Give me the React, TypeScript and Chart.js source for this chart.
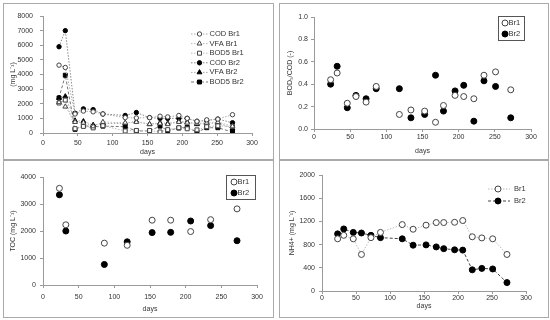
import React, { useEffect, useRef } from 'react';
import { Chart, registerables } from 'chart.js';
Chart.register(...registerables);

// ---------- data ----------
const days = [23, 32, 46, 58, 72, 86, 118, 134, 153, 168, 179, 195, 207, 221, 235, 251, 272];
const codBr1 = [4640, 4480, 1300, 1500, 1450, 1300, 1050, 1030, 1050, 1150, 1100, 1200, 1000, 800, 900, 950, 1250];
const vfaBr1 = [2100, 1800, 750, 700, 450, 750, 700, 750, 600, 650, 600, 750, 700, 650, 700, 750, 450];
const bodBr1 = [2050, 2250, 300, 450, 350, 500, 140, 175, 170, 70, 230, 360, 290, 215, 430, 490, 440];
const codBr2 = [5900, 7000, 1350, 1650, 1600, 1300, 1200, 1400, 1050, 1000, 1000, 1000, 1000, 800, 850, 950, 700];
const vfaBr2 = [2400, 2500, 850, 800, 550, 650, 650, 800, 600, 700, 650, 800, 750, 600, 650, 700, 300];
const bodBr2 = [2400, 3950, 250, 500, 430, 470, 430, 140, 140, 470, 160, 340, 390, 55, 360, 360, 70];

const ratioBr1 = [0.44, 0.5, 0.23, 0.29, 0.24, 0.38, 0.13, 0.17, 0.16, 0.06, 0.21, 0.3, 0.29, 0.27, 0.48, 0.51, 0.35];
const ratioBr2 = [0.4, 0.56, 0.19, 0.3, 0.27, 0.36, 0.36, 0.1, 0.13, 0.48, 0.16, 0.34, 0.39, 0.07, 0.43, 0.38, 0.1];

const tocDays = [23, 32, 86, 118, 153, 179, 207, 235, 272];
const tocBr1 = [3580, 2230, 1550, 1470, 2400, 2400, 1980, 2420, 2820];
const tocBr2 = [3340, 2000, 760, 1600, 1940, 1950, 2370, 2200, 1640];

const nh4Br1 = [900, 960, 900, 630, 920, 1010, 1145, 1065, 1135, 1180, 1180, 1185, 1215, 935, 915, 900, 630];
const nh4Br2 = [985, 1070, 1010, 1000, 960, 920, 900, 790, 795, 760, 730, 710, 705, 365, 390, 380, 145];

const seriesLabelsP1 = ['COD Br1', 'VFA Br1', 'BOD5 Br1', 'COD Br2', 'VFA Br2', 'BOD5 Br2'];
const reactorLabels = ['Br1', 'Br2'];
const xTitle = 'days';
const yTitles = ['(mg L\u207B\u00B9)', 'BOD\u2085/COD (-)', 'TOC (mg L\u207B\u00B9)', 'NH4+ (mg L\u207B\u00B9)'];
const xRange = { min: 0, max: 300, step: 50 };
const yRanges = [
  { min: 0, max: 8000, step: 1000 },
  { min: 0, max: 1, step: 0.2 },
  { min: 0, max: 4000, step: 1000 },
  { min: 0, max: 2000, step: 400 },
];

// ---------- styling ----------
const FONT = "'Liberation Sans', Arial, sans-serif";
const FS = 7;
const LH = FS * 1.2;
const AXIS = '#9a9a9a';
const TXT = '#333';

const pts = (xs: number[], ys: number[]) => xs.map((x, i) => ({ x, y: ys[i] }));

function drawMarker(ctx: CanvasRenderingContext2D, style: string, x: number, y: number, r: number, fill: string, stroke: string, bw: number) {
  ctx.save();
  ctx.beginPath();
  if (style === 'triangle') {
    let rad = 0;
    ctx.moveTo(x + Math.sin(rad) * r, y - Math.cos(rad) * r);
    rad += (2 * Math.PI) / 3;
    ctx.lineTo(x + Math.sin(rad) * r, y - Math.cos(rad) * r);
    rad += (2 * Math.PI) / 3;
    ctx.lineTo(x + Math.sin(rad) * r, y - Math.cos(rad) * r);
    ctx.closePath();
  } else if (style === 'rect') {
    const s = r * Math.SQRT1_2;
    ctx.rect(x - s, y - s, 2 * s, 2 * s);
  } else {
    ctx.arc(x, y, r, 0, Math.PI * 2);
  }
  ctx.fillStyle = fill;
  ctx.fill();
  ctx.lineWidth = bw;
  ctx.strokeStyle = stroke;
  ctx.stroke();
  ctx.restore();
}

type LegendCfg = {
  line?: [number, number];
  markerX: number;
  textX: number;
  rows: number[];
  box?: { x: number; y: number; w: number; h: number };
};

function legendPlugin(cfg: LegendCfg) {
  return {
    id: 'customLegend',
    afterDraw(chart: any) {
      const ctx: CanvasRenderingContext2D = chart.ctx;
      ctx.save();
      if (cfg.box) {
        ctx.strokeStyle = '#555';
        ctx.lineWidth = 1;
        ctx.strokeRect(cfg.box.x + 0.5, cfg.box.y + 0.5, cfg.box.w, cfg.box.h);
      }
      chart.data.datasets.forEach((ds: any, i: number) => {
        const y = cfg.rows[i];
        if (cfg.line && ds.showLine) {
          ctx.save();
          ctx.beginPath();
          ctx.setLineDash(ds.borderDash || []);
          ctx.strokeStyle = ds.borderColor;
          ctx.lineWidth = ds.borderWidth;
          ctx.moveTo(cfg.line[0], y);
          ctx.lineTo(cfg.line[1], y);
          ctx.stroke();
          ctx.restore();
        }
        drawMarker(ctx, ds.pointStyle, cfg.markerX, y, ds.pointRadius, ds.pointBackgroundColor, ds.pointBorderColor, ds.pointBorderWidth);
        ctx.fillStyle = TXT;
        ctx.font = `${FS + 0.5}px ${FONT}`;
        ctx.textBaseline = 'middle';
        ctx.textAlign = 'left';
        ctx.fillText(ds.label, cfg.textX, y);
      });
      ctx.restore();
    },
  };
}

type Panel = {
  box: { left: number; top: number; w: number; h: number };
  plot: { l: number; t: number; r: number; b: number };
  yTitleX: number;
  xTitleY: number;
  xTickOff: number;
  yTickGap: number;
  yi: number;
  decimals: number;
  datasets: any[];
  legend: LegendCfg;
};

const ds = (label: string, xs: number[], ys: number[], o: any) => ({
  label,
  data: pts(xs, ys),
  showLine: false,
  borderWidth: 1,
  pointBorderWidth: 1,
  ...o,
});

const openStyle = (style: string, r: number, line?: { c: string; d: number[] }) => ({
  pointStyle: style,
  pointRadius: r,
  pointBackgroundColor: '#fff',
  pointBorderColor: '#444',
  ...(line ? { showLine: true, borderColor: line.c, borderDash: line.d } : { borderColor: '#444' }),
});
const fillStyle = (style: string, r: number, line?: { c: string; d: number[] }) => ({
  pointStyle: style,
  pointRadius: r,
  pointBackgroundColor: '#000',
  pointBorderColor: '#000',
  ...(line ? { showLine: true, borderColor: line.c, borderDash: line.d } : { borderColor: '#000' }),
});

const dot = [1.5, 1.5];
const dash = [3, 2];

const panels: Panel[] = [
  {
    box: { left: 3, top: 3, w: 271, h: 157 },
    plot: { l: 39, t: 12, r: 248, b: 129 },
    yTitleX: 9,
    xTitleY: 148.5,
    xTickOff: 10,
    yTickGap: 10,
    yi: 0,
    decimals: 0,
    datasets: [
      ds(seriesLabelsP1[0], days, codBr1, openStyle('circle', 2.2, { c: '#aaa', d: dot })),
      ds(seriesLabelsP1[1], days, vfaBr1, openStyle('triangle', 2.8, { c: '#bbb', d: dot })),
      ds(seriesLabelsP1[2], days, bodBr1, openStyle('rect', 2.8, { c: '#bbb', d: dot })),
      ds(seriesLabelsP1[3], days, codBr2, fillStyle('circle', 2.2, { c: '#888', d: dot })),
      ds(seriesLabelsP1[4], days, vfaBr2, fillStyle('triangle', 2.8, { c: '#aaa', d: dot })),
      ds(seriesLabelsP1[5], days, bodBr2, fillStyle('rect', 2.8, { c: '#777', d: dash })),
    ],
    legend: { line: [187, 204], markerX: 195.5, textX: 205.5, rows: [30, 39.6, 49.2, 58.8, 68.4, 78] },
  },
  {
    box: { left: 279, top: 3, w: 270, h: 157 },
    plot: { l: 34, t: 13, r: 251, b: 125 },
    yTitleX: 10,
    xTitleY: 147,
    xTickOff: 8,
    yTickGap: 6,
    yi: 1,
    decimals: 1,
    datasets: [
      ds(reactorLabels[0], days, ratioBr1, openStyle('circle', 3)),
      ds(reactorLabels[1], days, ratioBr2, fillStyle('circle', 3)),
    ],
    legend: { markerX: 225, textX: 228.5, rows: [19, 30], box: { x: 218, y: 12, w: 26, h: 24 } },
  },
  {
    box: { left: 3, top: 160, w: 271, h: 158 },
    plot: { l: 39, t: 16, r: 253, b: 124 },
    yTitleX: 9,
    xTitleY: 148,
    xTickOff: 12,
    yTickGap: 7,
    yi: 2,
    decimals: 0,
    datasets: [
      ds(reactorLabels[0], tocDays, tocBr1, openStyle('circle', 3)),
      ds(reactorLabels[1], tocDays, tocBr2, fillStyle('circle', 3)),
    ],
    legend: { markerX: 230, textX: 233.5, rows: [21, 32], box: { x: 222, y: 14, w: 29, h: 24 } },
  },
  {
    box: { left: 279, top: 160, w: 270, h: 158 },
    plot: { l: 42, t: 14, r: 246, b: 130 },
    yTitleX: 12,
    xTitleY: 145,
    xTickOff: 7.5,
    yTickGap: 7,
    yi: 3,
    decimals: 0,
    datasets: [
      ds(reactorLabels[0], days, nh4Br1, openStyle('circle', 3, { c: '#bbb', d: dot })),
      ds(reactorLabels[1], days, nh4Br2, fillStyle('circle', 3, { c: '#444', d: dash })),
    ],
    legend: { line: [208, 230], markerX: 218, textX: 234, rows: [28, 40] },
  },
];

function PanelChart({ p }: { p: Panel }) {
  const ref = useRef<HTMLCanvasElement>(null);
  const cw = p.box.w - 2;
  const ch = p.box.h - 2;
  useEffect(() => {
    if (!ref.current) return;
    const yr = yRanges[p.yi];
    const font = { family: FONT, size: FS };
    const tl = 3;
    const chart = new Chart(ref.current, {
      type: 'scatter',
      data: { datasets: p.datasets },
      plugins: [legendPlugin(p.legend)],
      options: {
        animation: false,
        responsive: false,
        devicePixelRatio: 1,
        layout: { padding: { left: 0, top: p.plot.t, right: cw - p.plot.r, bottom: 0 } },
        plugins: { legend: { display: false }, tooltip: { enabled: false } },
        scales: {
          x: {
            type: 'linear',
            min: xRange.min,
            max: xRange.max,
            ticks: { stepSize: xRange.step, font, color: TXT, padding: p.xTickOff - tl - LH / 2, maxRotation: 0 },
            grid: { drawOnChartArea: false, tickLength: tl, color: AXIS },
            border: { color: AXIS },
            title: {
              display: true,
              text: xTitle,
              font,
              color: TXT,
              padding: { top: 0, bottom: ch - p.xTitleY - LH / 2 },
            },
            afterFit: (s: any) => {
              s.height = ch - p.plot.b;
            },
          },
          y: {
            type: 'linear',
            min: yr.min,
            max: yr.max,
            ticks: {
              stepSize: yr.step,
              font,
              color: TXT,
              padding: p.yTickGap - tl,
              callback: (v: any) => Number(v).toFixed(p.decimals),
            },
            grid: { drawOnChartArea: false, tickLength: tl, color: AXIS },
            border: { color: AXIS },
            title: {
              display: true,
              text: yTitles[p.yi],
              font,
              color: TXT,
              padding: { top: p.yTitleX - LH / 2, bottom: 0 },
            },
            afterFit: (s: any) => {
              s.width = p.plot.l;
            },
          },
        },
      } as any,
    });
    return () => chart.destroy();
  }, []);
  return (
    <div
      style={{
        position: 'absolute',
        left: p.box.left,
        top: p.box.top,
        width: p.box.w,
        height: p.box.h,
        border: '1px solid #aaa',
        boxSizing: 'border-box',
        background: '#fff',
      }}
    >
      <canvas ref={ref} width={cw} height={ch} style={{ display: 'block', width: cw, height: ch }} />
    </div>
  );
}

export default function App() {
  return (
    <div style={{ position: 'fixed', left: 0, top: 0, width: 550, height: 320, background: '#fff', overflow: 'hidden' }}>
      {panels.map((p, i) => (
        <PanelChart key={i} p={p} />
      ))}
    </div>
  );
}
